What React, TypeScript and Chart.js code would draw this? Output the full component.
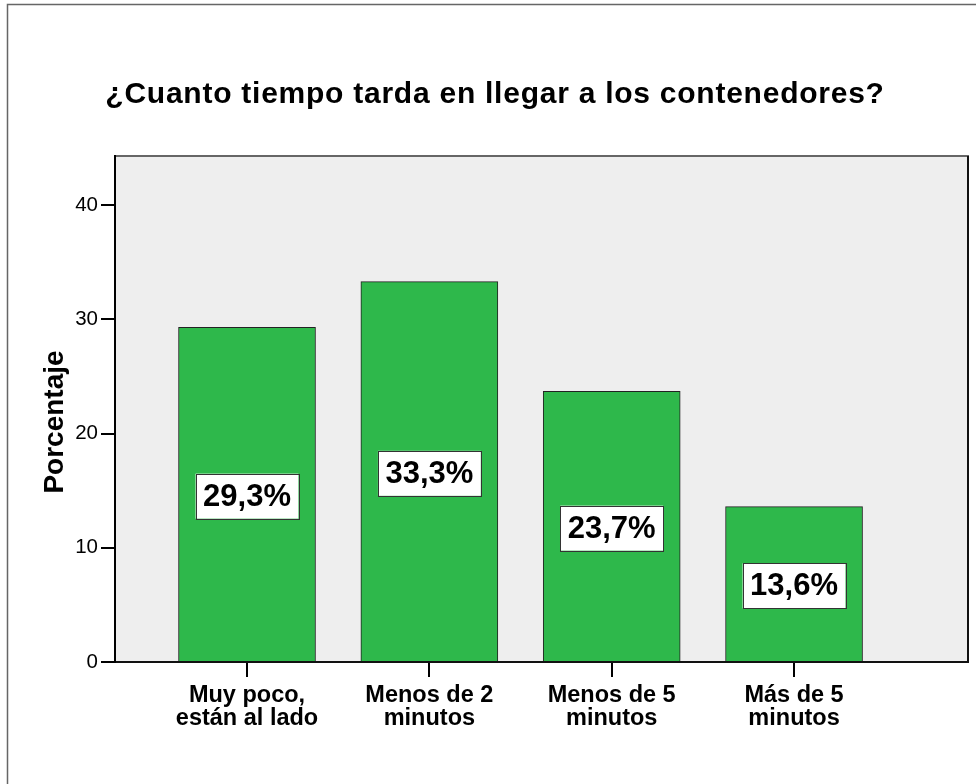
import React, { useEffect, useRef } from "react";
import { Chart, registerables } from "chart.js";

Chart.register(...registerables);

const categories: string[][] = [
  ["Muy poco,", "están al lado"],
  ["Menos de 2", "minutos"],
  ["Menos de 5", "minutos"],
  ["Más de 5", "minutos"],
];
const percentages = [29.3, 33.3, 23.7, 13.6];
const valueLabels = ["29,3%", "33,3%", "23,7%", "13,6%"];
const yTicks = [0, 10, 20, 30, 40];
const chartTitle = "¿Cuanto tiempo tarda en llegar a los contenedores?";
const yTitle = "Porcentaje";

const FONT = "Arial, 'Liberation Sans', Helvetica, sans-serif";

const decor = {
  id: "decor",
  beforeDraw(chart: any) {
    const { ctx, chartArea: a } = chart;
    ctx.save();
    ctx.fillStyle = "#ffffff";
    ctx.fillRect(0, 0, chart.width, chart.height);
    // outer frame
    ctx.strokeStyle = "#666666";
    ctx.lineWidth = 1.5;
    ctx.beginPath();
    ctx.moveTo(7.5, chart.height);
    ctx.lineTo(7.5, 4.5);
    ctx.lineTo(chart.width, 4.5);
    ctx.stroke();
    // plot background
    ctx.fillStyle = "#eeeeee";
    ctx.fillRect(a.left, a.top, a.right - a.left, a.bottom - a.top);
    ctx.strokeStyle = "#666666";
    ctx.lineWidth = 2;
    ctx.strokeRect(a.left, a.top, a.right - a.left, a.bottom - a.top);
    ctx.strokeStyle = "#111111";
    ctx.beginPath();
    ctx.moveTo(a.right, a.top);
    ctx.lineTo(a.right, a.bottom);
    ctx.stroke();
    // title
    ctx.fillStyle = "#000000";
    ctx.font = `bold 30px ${FONT}`;
    (ctx as any).letterSpacing = "0.75px";
    ctx.textAlign = "center";
    ctx.textBaseline = "alphabetic";
    ctx.fillText(chartTitle, 495, 103);
    (ctx as any).letterSpacing = "0px";
    // y axis title
    ctx.save();
    ctx.translate(63, 422);
    ctx.rotate(-Math.PI / 2);
    ctx.font = `bold 28px ${FONT}`;
    ctx.textAlign = "center";
    ctx.textBaseline = "alphabetic";
    ctx.fillText(yTitle, 0, 0);
    ctx.restore();
    ctx.restore();
  },
  afterDatasetsDraw(chart: any) {
    const { ctx } = chart;
    const meta = chart.getDatasetMeta(0);
    ctx.save();
    ctx.font = `bold 31px ${FONT}`;
    ctx.textAlign = "center";
    ctx.textBaseline = "middle";
    meta.data.forEach((bar: any, i: number) => {
      const cx = bar.x;
      const cy = (bar.y + bar.base) / 2 + 2;
      const text = valueLabels[i];
      const w = ctx.measureText(text).width + 15;
      const h = 45;
      ctx.fillStyle = "#ffffff";
      ctx.fillRect(cx - w / 2, cy - h / 2, w, h);
      ctx.strokeStyle = "#333333";
      ctx.lineWidth = 1;
      ctx.strokeRect(Math.round(cx - w / 2) + 0.5, Math.round(cy - h / 2) + 0.5, Math.round(w), h);
      ctx.fillStyle = "#000000";
      ctx.fillText(text, cx, cy + 1);
    });
    ctx.restore();
  },
};

export default function App() {
  const ref = useRef<HTMLCanvasElement | null>(null);

  useEffect(() => {
    document.body.style.margin = "0";
    const canvas = ref.current;
    if (!canvas) return;
    const chart = new Chart(canvas, {
      type: "bar",
      data: {
        datasets: [
          {
            data: percentages.map((v, i) => ({ x: i, y: v })),
            backgroundColor: "#2eb84b",
            borderColor: "#222222",
            borderWidth: 1,
            barThickness: 137,
          } as any,
        ],
      },
      options: {
        animation: false,
        responsive: false,
        devicePixelRatio: 1,
        layout: { padding: { top: 156, right: 8, left: 0, bottom: 0 } },
        plugins: {
          legend: { display: false },
          tooltip: { enabled: false },
          title: { display: false },
        },
        scales: {
          x: {
            type: "linear",
            offset: false,
            min: -0.724,
            max: 3.954,
            afterBuildTicks: (scale: any) => {
              scale.ticks = categories.map((_, i) => ({ value: i }));
            },
            afterFit: (scale: any) => {
              scale.height = 122;
            },
            ticks: {
              autoSkip: false,
              maxRotation: 0,
              minRotation: 0,
              padding: 7,
              color: "#000000",
              font: { family: FONT, size: 23.5, weight: "bold", lineHeight: 0.98 },
              callback: (value: any) => categories[Math.round(Number(value))] ?? "",
            },
            grid: {
              offset: false,
              drawOnChartArea: false,
              drawTicks: true,
              tickLength: 15,
              color: "#000000",
              lineWidth: 2,
            },
            border: { display: true, color: "#111111", width: 2 },
          },
          y: {
            type: "linear",
            min: 0,
            max: 44.3,
            afterBuildTicks: (scale: any) => {
              scale.ticks = yTicks.map((v) => ({ value: v }));
            },
            afterFit: (scale: any) => {
              scale.width = 115;
            },
            ticks: {
              padding: 3,
              color: "#000000",
              font: { family: FONT, size: 20.5 },
              callback: (value: any) => String(value),
            },
            grid: {
              drawOnChartArea: false,
              drawTicks: true,
              tickLength: 14,
              color: "#000000",
              lineWidth: 2,
            },
            border: { display: true, color: "#000000", width: 2 },
          },
        },
      } as any,
      plugins: [decor],
    });
    return () => chart.destroy();
  }, []);

  return (
    <div style={{ width: 976, height: 784, position: "relative" }}>
      <canvas ref={ref} width={976} height={784} style={{ display: "block" }} />
    </div>
  );
}
